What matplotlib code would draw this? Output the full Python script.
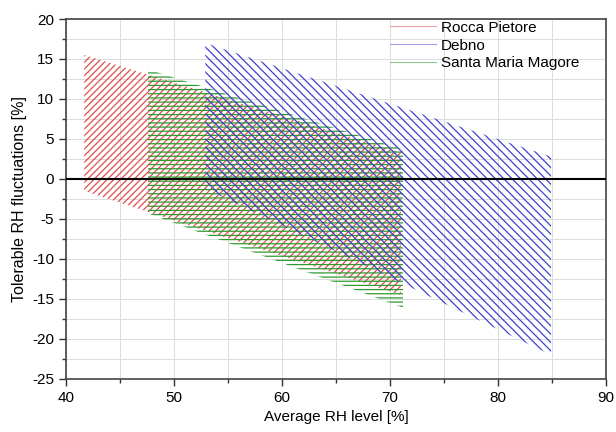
import matplotlib
matplotlib.use('Agg')
import matplotlib.pyplot as plt
from matplotlib.lines import Line2D

# data: corners of each tolerance region (avg RH, fluctuation), clockwise
sites = ["Rocca Pietore", "Debno", "Santa Maria Magore"]
rocca_x = [41.7, 71.0, 71.0, 41.7]
rocca_y = [15.5, 3.3, -14.5, -1.5]
debno_x = [52.9, 84.9, 84.9, 52.9]
debno_y = [17.0, 2.8, -22.0, -1.2]
smm_x = [47.6, 71.2, 71.2, 47.6]
smm_y = [13.7, 3.7, -16.1, -4.3]

plt.rcParams['font.family'] = ['Liberation Sans', 'DejaVu Sans']
plt.rcParams['hatch.linewidth'] = 0.9
plt.rcParams['axes.unicode_minus'] = False

fig = plt.figure(figsize=(6.16, 4.32), dpi=100)
ax = fig.add_axes([0.107, 0.123, 0.877, 0.833])

red, blue, green = '#e04c4c', '#4040cc', '#2f9a2f'

ax.fill(rocca_x, rocca_y, facecolor='none', edgecolor=red, hatch='/////', linewidth=0, zorder=2)
ax.fill(smm_x, smm_y, facecolor='none', edgecolor=green, hatch='----', linewidth=0, zorder=2)
ax.fill(debno_x, debno_y, facecolor='none', edgecolor=blue, hatch='\\\\\\\\', linewidth=0, zorder=2)

ax.axhline(0, color='black', linewidth=1.5, zorder=3)

ax.set_xlim(40, 90)
ax.set_ylim(-25, 20)
ax.set_xticks(range(40, 91, 10))
ax.set_xticks(range(45, 90, 10), minor=True)
ax.set_yticks(range(-25, 21, 5))
ax.set_yticks([v + 2.5 for v in range(-25, 20, 5)], minor=True)
ax.grid(True, which='both', color='#dcdcdc', linewidth=0.7, zorder=0)
ax.set_axisbelow(True)

ax.tick_params(which='both', direction='out', labelsize=11, width=1.0, color='#333333')
ax.tick_params(which='major', length=5)
ax.tick_params(which='minor', length=3)
for s in ax.spines.values():
    s.set_color('#444444')
    s.set_linewidth(1.2)

ax.set_xlabel('Average RH level [%]', fontsize=11)
ax.set_ylabel('Tolerable RH fluctuations [%]', fontsize=11.5)

handles = [Line2D([], [], color='#f0a0a0', linewidth=0.8),
           Line2D([], [], color='#a0a0e8', linewidth=0.8),
           Line2D([], [], color='#90c890', linewidth=0.8)]
ax.legend(handles, sites, loc='upper left', bbox_to_anchor=(0.589, 1.012),
          frameon=False, fontsize=11, handlelength=3.0, handletextpad=0.3,
          labelspacing=0.25, borderaxespad=0)

fig.savefig('out.png', dpi=100)
